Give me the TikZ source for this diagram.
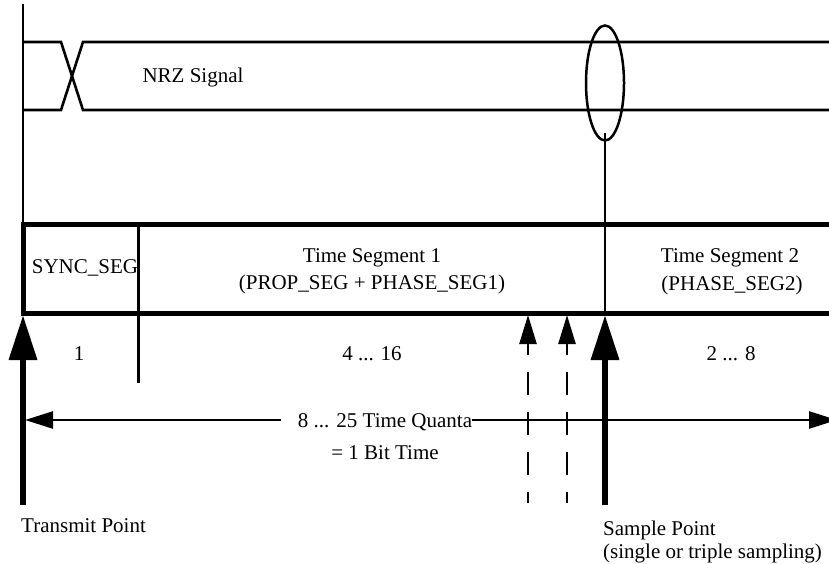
\documentclass[tikz,border=0pt]{standalone}
\usepackage{fontspec}
\setmainfont{Liberation Serif}
\usetikzlibrary{arrows.meta}
\begin{document}
\begin{tikzpicture}[x=1pt,y=-1pt,
  thin line/.style={line width=2.6pt},
  box line/.style={line width=5pt, line join=miter},
  bigarrow/.style={line width=6.5pt, -{Triangle[length=45pt,width=27pt]}},
  dasharrow/.style={line width=2.5pt, dash pattern=on 23pt off 17pt, dash phase=12pt},
  dashhead/.style={line width=2.5pt, -{Triangle[length=29pt,width=17pt]}},
  dimarrow/.style={line width=2.5pt},
  lbl/.style={inner sep=0pt, font=\fontsize{21}{27}\selectfont}]
\useasboundingbox (0,0) rectangle (829,564);
\fill[white] (0,0) rectangle (829,564);
\clip (0,0) rectangle (829,564);

% coordinates
\coordinate (axTop) at (23,4);
\coordinate (boxTL) at (23,224);
\coordinate (boxBL) at (23,313);
\coordinate (boxTR) at (829,224);
\coordinate (boxBR) at (829,313);
\coordinate (syncTop) at (138,224);
\coordinate (syncBot) at (138,383);
\coordinate (hiL) at (23,42);
\coordinate (loL) at (23,110);
\coordinate (hiA) at (61,42);
\coordinate (loA) at (61,110);
\coordinate (hiB) at (83,42);
\coordinate (loB) at (83,110);
\coordinate (hiR) at (829,42);
\coordinate (loR) at (829,110);
\coordinate (ell) at (605,83);
\coordinate (ellLine) at (605,133);
\coordinate (spBox) at (605,313);
\coordinate (tpBot) at (23,505);
\coordinate (tpTip) at (23,315);
\coordinate (spBot) at (605,505);
\coordinate (spTip) at (605,315);
\coordinate (d1Bot) at (528,503);
\coordinate (d1Base) at (528,344);
\coordinate (d1Tip) at (528,315);
\coordinate (d2Bot) at (567,503);
\coordinate (d2Base) at (567,344);
\coordinate (d2Tip) at (567,315);
\coordinate (hLeft) at (25,420);
\coordinate (hGap) at (281,420);
\coordinate (hRight) at (837,420);

% axis line and NRZ signal
\draw[thin line] (axTop) -- (boxTL);
\draw[thin line, line join=miter] (hiL) -- (hiA) -- (loB) -- (loR);
\draw[thin line, line join=miter] (loL) -- (loA) -- (hiB) -- (hiR);
\node[lbl, anchor=base] (nrz) at (193,83) {NRZ Signal};

% sample ellipse
\draw[line width=2.5pt] (ell) ellipse [x radius=19, y radius=57.5];
\draw[line width=2.8pt] (ellLine) -- (spBox);

% bit time box
\draw[box line] (boxTR) -- (boxTL) -- (boxBL) -- (boxBR);
\draw[line width=3pt] (syncTop) -- (syncBot);

\node[lbl, anchor=base] (sync) at (85,273) {SYNC\_SEG};
\node[lbl, anchor=base] (ts1) at (372,262) {Time Segment 1};
\node[lbl, anchor=base] (ts1b) at (372,289) {(PROP\_SEG + PHASE\_SEG1)};
\node[lbl, anchor=base] (ts2) at (730,262) {Time Segment 2};
\node[lbl, anchor=base] (ts2b) at (732,290) {(PHASE\_SEG2)};

\node[lbl, anchor=base] (n1) at (79,360) {1};
\node[lbl, anchor=base] (n2) at (372,360) {4 ... 16};
\node[lbl, anchor=base] (n3) at (731,360) {2 ... 8};

% transmit and sample arrows
\draw[bigarrow] (tpBot) -- (tpTip);
\draw[bigarrow] (spBot) -- (spTip);

% dashed triple sampling arrows
\draw[dasharrow] (d1Base) -- (d1Bot);
\draw[dashhead] (d1Base) -- (d1Tip);
\draw[dasharrow] (d2Base) -- (d2Bot);
\draw[dashhead] (d2Base) -- (d2Tip);

% time quanta dimension
\node[lbl, anchor=base] (tq) at (385,427) {8 ... 25 Time Quanta};
\node[lbl, anchor=base] (bt) at (385,459) {= 1 Bit Time};
\draw[dimarrow, {Triangle[length=28pt,width=17pt]}-] (hLeft) -- (hGap);
\draw[dimarrow, -{Triangle[length=28pt,width=17pt]}] (tq.east |- hRight) -- (hRight);

% labels
\node[lbl, anchor=base west] (tp) at (21,532) {Transmit Point};
\node[lbl, anchor=base west] (sp) at (603,535) {Sample Point};
\node[lbl, anchor=base west] (sp2) at (603,558) {(single or triple sampling)};
\end{tikzpicture}
\end{document}
